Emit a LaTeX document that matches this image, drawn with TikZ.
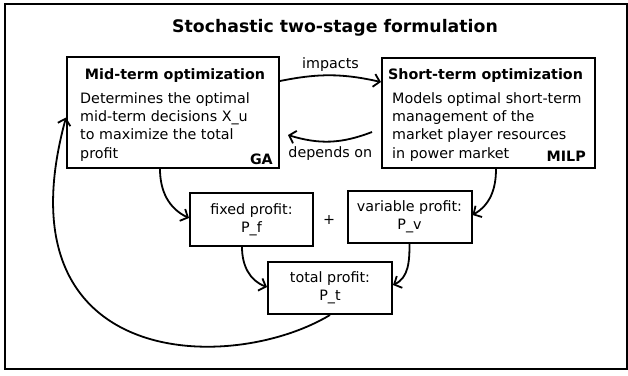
\documentclass[tikz,border=0pt]{standalone}
\usepackage{fontspec}
\setmainfont{DejaVu Sans}
\usetikzlibrary{arrows.meta}
\begin{document}
\begin{tikzpicture}[x=1pt,y=-1pt,
  every node/.style={font=\fontsize{14.3}{18.3}\selectfont, inner sep=0pt},
  frame/.style={draw, line width=2pt},
  box/.style={draw, line width=2pt, inner sep=0pt},
  head/.style={font=\fontsize{14.3}{18.3}\selectfont\bfseries},
  body/.style={align=left},
  conn/.style={line width=1.8pt, -{Straight Barb[length=6pt,width=13pt]}}
]
\useasboundingbox (0,0) rectangle (628,375);
\node[frame, minimum width=621.5pt, minimum height=365pt] (frame) at (315.75,186.5) {};
\node[font=\fontsize{17.3}{20}\selectfont\bfseries] (title) at (335,28) {Stochastic two-stage formulation};

\node[box, minimum width=212pt, minimum height=111pt] (mid) at (173,112.5) {};
\node[head] (midh) at (175,76) {Mid-term optimization};
\node[body, anchor=north west] (midb) at (80,92.2) {Determines the optimal\\mid-term decisions X\_u\\to maximize the total\\profit};
\node[head, anchor=base east] (ga) at (273,164) {GA};

\node[box, minimum width=213pt, minimum height=110pt] (short) at (488.5,113) {};
\node[head] (shorth) at (485.5,76) {Short-term optimization};
\node[body, anchor=north west] (shortb) at (392,92.2) {Models optimal short-term\\management of the\\market player resources\\in power market};
\node[head, anchor=base east] (milp) at (586,161) {MILP};

\node[box, minimum width=123pt, minimum height=53pt, align=center] (fixed) at (251.5,219.5) {fixed profit:\\P\_f};
\node[box, minimum width=124pt, minimum height=52pt, align=center] (var) at (409.5,217) {variable profit:\\P\_v};
\node[box, minimum width=124pt, minimum height=52pt, align=center] (total) at (330,288) {total profit:\\P\_t};
\node (plus) at (329,220) {+};

\draw[conn] ([yshift=-25pt]mid.north east) to[bend left=12] node[midway, above=3pt] {impacts} ([yshift=-25pt]short.north west);
\draw[conn] ([xshift=-9pt,yshift=-75pt]short.north west) to[bend left=19] node[midway, below=4pt] {depends on} ([xshift=8pt,yshift=-79pt]mid.north east);
\draw[conn] ([xshift=-13pt]mid.south) to[out=-90,in=155] ([yshift=1.5pt]fixed.west);
\draw[conn] ([xshift=7.5pt]short.south) to[out=-90,in=30] ([yshift=2pt]var.east);
\draw[conn] ([xshift=-9.5pt]fixed.south) to[out=-90,in=160] ([yshift=1pt]total.west);
\draw[conn] (var.south) to[out=-90,in=25] ([yshift=3pt]total.east);
\draw[conn] (total.south) .. controls (230,375) and (-3,370) .. ([yshift=-5pt]mid.west);
\end{tikzpicture}
\end{document}
